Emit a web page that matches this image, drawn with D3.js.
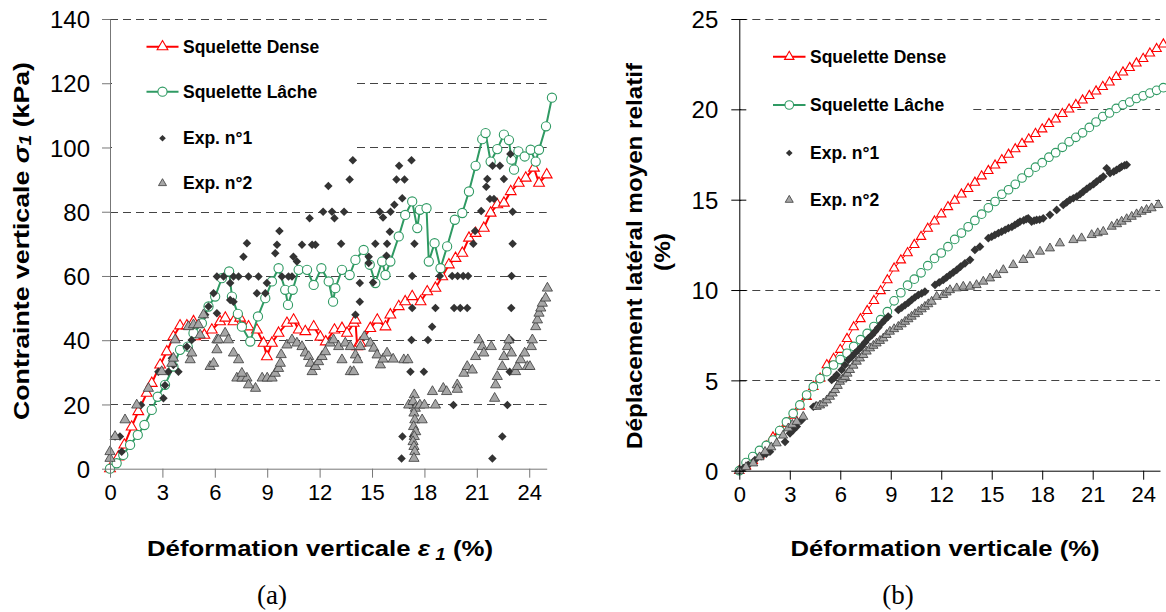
<!DOCTYPE html>
<html><head><meta charset="utf-8">
<script src="https://cdn.jsdelivr.net/npm/d3@7"></script>
<style>body{margin:0;background:#fff}svg{display:block}</style>
</head><body>
<svg id="c" width="1166" height="612"></svg>
<script>
// ---------- DATA ----------
const xTicks=[0,3,6,9,12,15,18,21,24];
const yTicksA=[0,20,40,60,80,100,120,140];
const yTicksB=[0,5,10,15,20,25];
const legendLabels=["Squelette Dense","Squelette Lâche","Exp. n°1","Exp. n°2"];

// Panel (a): contrainte verticale vs déformation
const denseA=[[0,0],[0.48,3.7],[0.82,7.4],[1.24,13],[1.62,17.8],[2.1,23.5],[2.39,26.6],[2.87,32.3],[3.25,36.4],[3.63,41.1],[4.01,44.5],[4.4,44.5],[4.78,45.8],[4.87,41.1],[5.4,41.6],[5.83,43.2],[6.3,45.8],[6.6,46.9],[7.07,45.8],[7.45,46.9],[7.93,44.2],[8.41,43.2],[8.79,39.1],[8.98,34.9],[9.27,39.1],[9.65,42.2],[10.13,45.3],[10.51,46.3],[10.8,43.2],[11.18,42.7],[11.66,44.2],[12.04,41],[12.35,39.5],[12.85,43.2],[13.28,43.7],[13.57,42.2],[13.95,45.3],[14.05,46.3],[14.15,38],[14.33,39.1],[14.9,43.7],[15.3,46.3],[15.77,44.2],[16.05,47.9],[16.53,50.5],[16.9,52],[17.3,53.6],[17.78,52],[18.16,55.1],[18.63,56.2],[19.02,59.8],[19.4,63.5],[19.78,65.5],[20.17,67.1],[20.55,71.8],[20.93,73.3],[21.4,74.9],[21.79,79.6],[22.17,82.2],[22.55,82.7],[22.94,86.3],[23.4,88.9],[23.8,90.5],[24.27,93.6],[24.56,88.9],[25,91.5]];
const lacheA=[[0,0],[0.38,1.7],[0.76,4.3],[1.15,7.4],[1.59,10.5],[1.97,13.6],[2.39,18.3],[2.73,22.4],[3.15,26.1],[3.63,31.8],[4.01,37],[4.45,38],[4.78,42.2],[5.26,45.3],[5.64,50.5],[6.02,53.6],[6.4,59.3],[6.82,61.4],[6.98,53.6],[7.32,48.2],[7.55,44.2],[8.03,39.6],[8.47,47.4],[8.89,53.1],[9.27,58.3],[9.65,62.4],[10.03,55.7],[10.19,51],[10.46,55.7],[10.8,61.9],[11.28,61.9],[11.66,57.2],[12.1,62.4],[12.52,58.3],[12.77,52],[12.9,56.2],[13.28,61.9],[13.72,60.3],[14.05,65],[14.52,68.1],[14.87,63.5],[15.19,57.8],[15.58,64.5],[15.77,60.3],[16.05,64.5],[16.53,72.3],[16.9,79],[17.3,83.2],[17.59,74.9],[17.74,80.6],[18.12,81.1],[18.25,64.5],[18.58,70.2],[18.92,62.4],[19.3,69.2],[19.74,77.5],[20.17,79.6],[20.55,86.3],[20.93,94.3],[21.31,102.6],[21.5,104.5],[21.79,95.6],[22.17,99.5],[22.55,104],[22.84,102.3],[22.98,96.2],[23.13,93.1],[23.38,98.8],[23.74,97.2],[24.08,99.3],[24.37,95.6],[24.56,99.3],[24.96,106.6],[25.3,115.5]];
const exp1A=[[0.29,10],[0.57,10],[0.67,5.3],[1.78,19.8],[3.06,21.9],[3.15,26],[2.77,30.2],[3.34,30.2],[3.92,30.2],[3.63,32.3],[3.54,34.4],[4.4,38],[4.68,40.1],[5.45,47.9],[5.64,50.5],[5.93,54.6],[6.12,48.4],[6.12,59.8],[6.5,59.8],[6.88,57.8],[7.07,59.8],[7.36,59.8],[6.88,52.5],[7.07,52],[7.64,66],[7.84,70.2],[7.93,59.8],[8.5,59.8],[8.41,54.6],[8.89,54.6],[8.98,57.8],[9.46,67.1],[9.56,69.7],[9.7,74],[9.84,59.8],[10.22,59.8],[10.42,59.8],[10.5,66],[10.7,64.5],[10.99,69.7],[11.43,78],[11.57,69.7],[11.76,69.7],[12.2,80],[12.5,88],[12.71,80],[12.85,78],[13.4,80],[13.23,70],[13.72,90],[13.9,96],[14.3,57.8],[14.3,52],[14.05,47.9],[14.81,66],[14.81,64],[15.06,58],[15.19,70],[15.44,80],[15.63,78.2],[15.86,70],[15.83,66.3],[16.02,73.8],[16.06,80],[16.28,82.2],[16.4,90],[16.86,90],[16.55,94.3],[16.73,84.2],[17.26,96],[17.43,70],[17.3,60],[17.26,40.1],[17.2,30.2],[17.97,30.2],[18.2,40.1],[18.44,44.2],[18.63,50],[17.3,50],[18.88,60],[19.59,60],[19.9,60],[20.22,60],[20.5,60],[19.7,50],[20.05,50],[20.45,50],[19.66,19.8],[20.8,70],[20.9,74],[21.25,80.2],[21.54,87.8],[21.6,90.2],[21.75,84],[21.98,84],[21.9,94.3],[22.32,94.3],[22.55,90.2],[22.92,98],[23.05,80],[23.05,70],[22.99,60],[22.97,50],[22.94,40.1],[22.88,30.2],[22.75,19.8],[22.46,10],[21.89,3.2],[16.69,3.2],[16.74,10],[17.35,10],[17.16,19.8]];
const exp2A=[[0,3.2],[0,5.3],[0.29,10],[0.86,15.2],[1.53,19.8],[2.2,25],[2.96,30.2],[3.54,32.8],[3.63,34.4],[3.73,40.1],[4.49,44.2],[4.78,44.8],[5.06,44.8],[5.35,47.9],[5.16,41.6],[4.59,33.9],[4.68,36],[5.73,31.8],[5.93,32.8],[6.12,37],[6.12,40.1],[6.21,40.1],[6.59,42.2],[6.78,40.1],[7.07,36],[7.36,33.9],[7.26,28.2],[7.55,28.2],[7.84,28.2],[7.55,29.7],[8.33,25],[7.93,26.1],[8.71,28.2],[9.0,28.2],[9.28,28.2],[9.46,29.7],[9.65,31.2],[9.75,32.8],[9.8,35.5],[10.13,38.5],[10.42,40.1],[10.7,39.1],[10.99,38],[11.18,36],[11.37,34.9],[11.47,32.8],[11.57,30.2],[11.76,31.8],[11.94,33.3],[12.14,34.9],[12.33,36.4],[12.61,39.1],[12.8,40.1],[13.09,38],[13.28,33.9],[13.47,39.1],[13.76,38],[13.76,30.2],[13.95,30.2],[14.05,35.4],[14.18,33.9],[14.33,38],[14.56,41.1],[14.9,39.1],[15.1,37.5],[15.29,35.4],[15.48,32.3],[15.63,34.1],[15.86,36],[16.21,34.1],[16.82,33.9],[17.05,33.9],[17.1,19.8],[17.42,23],[17.35,20.9],[17.48,18.8],[17.4,17.3],[17.45,15.2],[17.38,13.1],[17.5,11.5],[17.42,10],[17.35,8.4],[17.4,6.9],[17.45,5.3],[17.4,3.2],[17.74,19.8],[17.87,15.2],[18.0,19.8],[18.46,24],[18.63,19.8],[19.08,25],[19.27,24],[19.88,26.1],[19.88,24.7],[20.26,29.7],[20.45,31.8],[20.74,30.7],[20.93,34.9],[21.12,40.1],[21.31,38],[21.4,36],[21.83,38],[22.08,26.1],[22.17,28.7],[22.02,21.9],[22.46,31.8],[22.55,34.9],[22.75,38],[22.84,40.1],[22.98,36],[23.22,30.2],[23.32,31.8],[23.51,33.9],[23.74,36],[23.89,31.8],[24.04,31.8],[24.12,38],[24.18,40.1],[24.37,44.2],[24.47,46.3],[24.56,48.4],[24.66,50],[24.75,51.5],[24.94,53.1],[25.04,56.2]];

// Panel (b): déplacement latéral moyen relatif vs déformation
const denseB=[[0,0],[0.4,0.25],[0.8,0.55],[1.2,0.85],[1.6,1.35],[2,1.85],[2.4,2.15],[2.8,2.6],[3.2,3.05],[3.6,3.55],[4,4.1],[4.4,4.65],[4.8,5.1],[5.2,5.85],[5.6,6.2],[6,6.7],[6.4,7.3],[6.8,7.95],[7.2,8.4],[7.6,8.85],[8,9.4],[8.4,9.95],[8.8,10.55],[9.2,11.2],[9.6,11.65],[10,12.05],[10.4,12.5],[10.8,12.95],[11.2,13.4],[11.6,13.8],[12,14.2],[12.4,14.6],[12.8,14.95],[13.2,15.3],[13.6,15.6],[14,15.95],[14.4,16.3],[14.8,16.6],[15.2,16.9],[15.6,17.2],[16,17.5],[16.4,17.8],[16.8,18.1],[17.2,18.35],[17.6,18.65],[18,18.9],[18.4,19.2],[18.8,19.45],[19.2,19.75],[19.6,20],[20,20.25],[20.4,20.5],[20.8,20.75],[21.2,21],[21.6,21.25],[22,21.5],[22.4,21.8],[22.8,22.05],[23.2,22.3],[23.6,22.55],[24,22.8],[24.4,23.1],[24.8,23.35],[25.2,23.6]];
const lacheB=[[0,0],[0.4,0.45],[0.8,0.78],[1.2,1.12],[1.6,1.4],[2,1.7],[2.4,2.22],[2.8,2.7],[3.2,3.17],[3.6,3.64],[4,4.19],[4.4,4.65],[4.8,5.1],[5.2,5.48],[5.6,5.85],[6,6.15],[6.4,6.5],[6.8,6.88],[7.2,7.25],[7.6,7.6],[8,7.98],[8.4,8.36],[8.8,8.8],[9.2,9.4],[9.6,9.85],[10,10.27],[10.4,10.6],[10.8,10.95],[11.2,11.35],[11.6,11.75],[12,12.05],[12.4,12.4],[12.8,12.8],[13.2,13.15],[13.6,13.5],[14,13.85],[14.4,14.2],[14.8,14.55],[15.2,14.9],[15.6,15.3],[16,15.55],[16.4,15.85],[16.8,16.2],[17.2,16.5],[17.6,16.8],[18,17.05],[18.4,17.35],[18.8,17.6],[19.2,17.9],[19.6,18.2],[20,18.45],[20.4,18.7],[20.8,19],[21.2,19.3],[21.6,19.6],[22,19.8],[22.4,20.05],[22.8,20.25],[23.2,20.4],[23.6,20.6],[24,20.75],[24.4,20.9],[24.8,21.05],[25.2,21.2]];
const exp1B=[[0,0],[0.25,0.15],[0.53,0.32],[0.93,0.59],[1.3,0.8],[1.6,0.95],[1.82,1.05],[2.72,1.6],[3.01,2.07],[3.2,2.25],[3.41,2.44],[3.71,2.8],[4.4,3.54],[4.55,3.6],[4.79,3.64],[5.49,5.02],[5.65,5.15],[5.79,5.3],[6.08,5.58],[6.28,5.85],[6.48,6.13],[6.68,6.3],[6.87,6.5],[7.07,6.68],[7.27,6.87],[7.47,7.1],[7.67,7.33],[7.87,7.5],[8.06,7.7],[8.26,7.92],[8.46,8.16],[8.65,8.35],[8.85,8.53],[9.45,8.9],[9.65,9.03],[9.85,9.17],[10.05,9.3],[10.24,9.45],[10.44,9.6],[10.64,9.73],[10.84,9.82],[11.03,9.91],[11.63,10.28],[11.88,10.42],[12.12,10.56],[12.32,10.7],[12.52,10.84],[12.72,10.98],[12.92,11.11],[13.15,11.3],[13.41,11.48],[13.71,11.67],[14.0,12.22],[14.3,12.4],[14.8,12.87],[15.0,12.95],[15.19,13.05],[15.4,13.15],[15.59,13.23],[15.8,13.33],[15.99,13.42],[16.2,13.5],[16.38,13.6],[16.55,13.7],[16.68,13.79],[16.9,13.85],[17.05,13.92],[17.17,13.97],[17.37,13.79],[17.52,13.84],[17.67,13.88],[17.85,13.9],[18.06,13.97],[18.46,14.16],[18.86,14.43],[19.25,14.71],[19.45,14.85],[19.65,14.99],[19.85,15.08],[20.05,15.17],[20.25,15.3],[20.44,15.45],[20.65,15.6],[20.84,15.73],[21.05,15.86],[21.23,16],[21.45,16.15],[21.63,16.28],[21.83,16.74],[22.03,16.47],[22.25,16.55],[22.42,16.65],[22.6,16.75],[22.72,16.83],[22.9,16.9],[23.02,16.93]];
const exp2B=[[0,0],[0.4,0.2],[0.83,0.41],[1.2,0.75],[1.53,1.05],[1.9,1.3],[2.22,1.52],[2.6,1.95],[2.91,2.35],[3.15,2.55],[3.41,2.71],[3.8,2.99],[4.6,3.54],[4.8,3.62],[4.99,3.73],[5.2,3.9],[5.39,4.1],[5.55,4.28],[5.69,4.47],[5.85,4.7],[5.98,4.93],[6.13,5.06],[6.28,5.2],[6.43,5.38],[6.58,5.58],[6.78,5.82],[6.98,6.04],[7.17,6.22],[7.37,6.41],[7.57,6.6],[7.77,6.78],[7.97,6.92],[8.16,7.05],[8.36,7.19],[8.56,7.33],[8.75,7.52],[8.95,7.7],[9.2,7.84],[9.45,7.97],[9.65,8.11],[9.85,8.25],[10.05,8.39],[10.24,8.53],[10.44,8.67],[10.64,8.8],[10.84,8.94],[11.03,9.08],[11.23,9.22],[11.43,9.36],[11.73,9.63],[12.12,9.73],[12.32,9.87],[12.52,10],[12.92,10.1],[13.31,10.19],[13.71,10.19],[14.1,10.28],[14.5,10.47],[14.9,10.65],[15.29,10.84],[15.69,11.11],[16.28,11.39],[16.88,11.67],[17.27,11.94],[17.87,12.13],[18.46,12.31],[19.05,12.59],[19.85,12.77],[20.34,12.87],[20.94,13.05],[21.3,13.15],[21.63,13.23],[22.13,13.51],[22.45,13.65],[22.72,13.79],[23.02,13.93],[23.32,14.06],[23.61,14.2],[23.91,14.34],[24.2,14.44],[24.5,14.53],[24.9,14.71]];

// ---------- DRAW ----------
const svg=d3.select("#c");
const RED="#ff0000", GREEN="#2f9a63", DARK="#333333", GRAYF="#a6a6a6";
const FONT="'Liberation Sans', Arial, sans-serif";

function panel(o){
  const x=d3.scaleLinear().domain([0,25]).range(o.xr);
  const y=d3.scaleLinear().domain(o.yd).range(o.yr);
  const g=svg.append("g");
  g.selectAll(".grid").data(o.yt.filter(v=>v>0)).enter().append("line")
    .attr("x1",o.xr[0]).attr("x2",o.xr[1]).attr("y1",d=>Math.round(y(d))+0.5).attr("y2",d=>Math.round(y(d))+0.5)
    .attr("stroke","#444").attr("stroke-width",1).attr("stroke-dasharray","8,5");
  g.append("rect").attr("x",o.xr[0]+2).attr("y",o.lbox[1]).attr("width",o.lbox[0]-o.xr[0]-2).attr("height",o.lbox[2]-o.lbox[1]).attr("fill","#fff");
  const line=d3.line().x(d=>x(d[0])).y(d=>y(d[1]));
  g.append("path").datum(o.dense).attr("d",line).attr("fill","none").attr("stroke",RED).attr("stroke-width",o.lw);
  g.selectAll(".td").data(o.dense).enter().append("path")
    .attr("d",d3.symbol(d3.symbolTriangle,o.triSize)).attr("transform",d=>`translate(${x(d[0])},${y(d[1])})`)
    .attr("fill","#fff").attr("stroke",RED).attr("stroke-width",1.1);
  g.append("path").datum(o.lache).attr("d",line).attr("fill","none").attr("stroke",GREEN).attr("stroke-width",o.lw);
  g.selectAll(".cl").data(o.lache).enter().append("circle")
    .attr("cx",d=>x(d[0])).attr("cy",d=>y(d[1])).attr("r",o.cr)
    .attr("fill","#fff").attr("stroke",GREEN).attr("stroke-width",1.1);
  g.selectAll(".e1").data(o.exp1).enter().append("path")
    .attr("d",d3.symbol(d3.symbolSquare,o.diaSize)).attr("transform",d=>`translate(${x(d[0])},${y(d[1])}) rotate(45)`)
    .attr("fill",DARK);
  g.selectAll(".e2").data(o.exp2).enter().append("path")
    .attr("d",d3.symbol(d3.symbolTriangle,o.t2Size)).attr("transform",d=>`translate(${x(d[0])},${y(d[1])})`)
    .attr("fill",GRAYF).attr("stroke","#3a3a3a").attr("stroke-width",0.8);
  const ya=d3.axisLeft(y).tickValues(o.yt).tickSizeInner(8).tickSizeOuter(0).tickPadding(o.cross?13:12);
  const yg=g.append("g").attr("transform",`translate(${o.xr[0]},0)`).call(ya);
  if(o.cross) yg.selectAll(".tick line").attr("x1",7);
  yg.select(".domain").attr("stroke",o.axisCol);
  yg.selectAll(".tick line").attr("stroke",o.axisCol);
  yg.selectAll("text").attr("font-family",FONT).attr("font-size",24).attr("fill","#000").attr("dy","0.36em");
  const xa=d3.axisBottom(x).tickValues(xTicks).tickSizeInner(9).tickSizeOuter(0).tickPadding(7);
  const xg=g.append("g").attr("transform",`translate(0,${o.yr[0]})`).call(xa);
  xg.select(".domain").attr("stroke",o.axisCol);
  xg.selectAll(".tick line").attr("stroke",o.axisCol);
  xg.selectAll("text").attr("font-family",FONT).attr("font-size",22).attr("fill","#000");
  const L=o.leg;
  legendLabels.forEach((lab,i)=>{
    const ly=L.ys[i];
    if(i<2){
      g.append("line").attr("x1",L.x0).attr("x2",L.x1).attr("y1",ly).attr("y2",ly).attr("stroke",i==0?RED:GREEN).attr("stroke-width",2);
    }
    const cx=(L.x0+L.x1)/2;
    if(i==0) g.append("path").attr("d",d3.symbol(d3.symbolTriangle,o.triSize)).attr("transform",`translate(${cx},${ly})`).attr("fill","#fff").attr("stroke",RED).attr("stroke-width",1.1);
    if(i==1) g.append("circle").attr("cx",cx).attr("cy",ly).attr("r",o.cr).attr("fill","#fff").attr("stroke",GREEN).attr("stroke-width",1.1);
    if(i==2) g.append("path").attr("d",d3.symbol(d3.symbolSquare,22)).attr("transform",`translate(${cx},${ly}) rotate(45)`).attr("fill",DARK);
    if(i==3) g.append("path").attr("d",d3.symbol(d3.symbolTriangle,28)).attr("transform",`translate(${cx},${ly})`).attr("fill",GRAYF).attr("stroke","#3a3a3a").attr("stroke-width",0.8);
    g.append("text").attr("x",L.tx).attr("y",ly).attr("dy","0.35em").attr("font-family",FONT).attr("font-weight","bold").attr("font-size",17.5).attr("fill","#000").text(lab);
  });
  return g;
}

panel({xr:[110,546.7],yr:[468.7,19],yd:[0,140],yt:yTicksA,dense:denseA,lache:lacheA,exp1:exp1A,exp2:exp2A,
  lw:2,triSize:50,cr:4.6,diaSize:36,t2Size:45,axisCol:"#777",cross:false,lbox:[355,26,200],
  leg:{x0:146.5,x1:178.5,tx:183,ys:[46.7,91.7,138.3,183.3]}});
panel({xr:[739.3,1160],yr:[470.7,19],yd:[0,25],yt:yTicksB,dense:denseB,lache:lacheB,exp1:exp1B,exp2:exp2B,
  lw:1,triSize:38,cr:4.3,diaSize:38,t2Size:36,axisCol:"#000",cross:true,lbox:[973,30,225],
  leg:{x0:773,x1:805.5,tx:810,ys:[56.7,105,153,200]}});

// axis titles
function title(sel,len){ return sel.attr("font-family",FONT).attr("font-weight","bold").attr("font-size",22)
  .attr("textLength",len).attr("lengthAdjust","spacingAndGlyphs"); }

const t1=title(svg.append("text").attr("transform","translate(21,241) rotate(-90)").attr("text-anchor","middle").attr("dominant-baseline","central"),358);
t1.append("tspan").text("Contrainte verticale  ");
t1.append("tspan").attr("font-style","italic").text("σ");
t1.append("tspan").attr("font-style","italic").attr("font-size",16).attr("dy",4).text("1");
t1.append("tspan").attr("dy",-4).text(" (kPa)");

const t2=title(svg.append("text").attr("x",320).attr("y",556).attr("text-anchor","middle"),346);
t2.append("tspan").text("Déformation verticale ");
t2.append("tspan").attr("font-style","italic").text("ε");
t2.append("tspan").attr("font-style","italic").attr("font-size",16).attr("dy",4).text(" 1");
t2.append("tspan").attr("dy",-4).text("  (%)");

title(svg.append("text").attr("x",945).attr("y",556).attr("text-anchor","middle"),309).text("Déformation verticale (%)");
title(svg.append("text").attr("transform","translate(634,256) rotate(-90)").attr("text-anchor","middle").attr("dominant-baseline","central"),386).text("Déplacement latéral moyen relatif");
title(svg.append("text").attr("transform","translate(662,252) rotate(-90)").attr("text-anchor","middle").attr("dominant-baseline","central"),38).text("(%)");

svg.append("text").attr("x",272).attr("y",604).attr("text-anchor","middle").attr("font-family","'Liberation Serif', 'Times New Roman', serif").attr("font-size",27).text("(a)");
svg.append("text").attr("x",898).attr("y",604).attr("text-anchor","middle").attr("font-family","'Liberation Serif', 'Times New Roman', serif").attr("font-size",27).text("(b)");
</script>
</body></html>
